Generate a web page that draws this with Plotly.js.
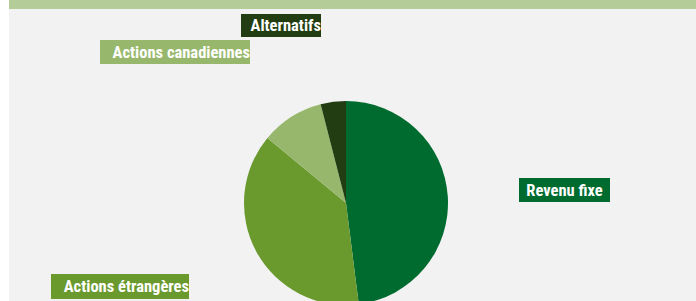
<!DOCTYPE html>
<html>
<head>
<meta charset="utf-8">
<script src="https://cdn.plot.ly/plotly-3.0.1.min.js"></script>
<style>
html,body{margin:0;padding:0;background:#ffffff;overflow:hidden;}
#chart{width:696px;height:330px;}
</style>
</head>
<body>
<div id="chart"></div>
<script>
// Data
var categories = ["Revenu fixe", "Actions étrangères", "Actions canadiennes", "Alternatifs"];
var values = [48, 38, 10, 4];
var colors = ["#006b2f", "#6a992e", "#97b86c", "#233d12"];

var W = 696, H = 330;
function px(x){ return x / W; }
function py(y){ return (H - y) / H; }

// pie geometry (pixels)
var cx = 346, cy = 203, r = 102;

var trace = {
  type: "pie",
  labels: categories,
  values: values,
  marker: {colors: colors, line: {width: 0}},
  sort: false,
  direction: "clockwise",
  rotation: 0,
  textinfo: "none",
  hoverinfo: "label+percent",
  showlegend: false,
  domain: {x: [px(cx - r), px(cx + r)], y: [py(cy + r), py(cy - r)]}
};

var labelBoxes = [
  {i: 3, x: 241, y: 14, w: 80, h: 23, align: "right"},
  {i: 2, x: 100, y: 40, w: 150, h: 24, align: "right"},
  {i: 0, x: 519, y: 178, w: 91, h: 24, align: "center"},
  {i: 1, x: 51, y: 274, w: 138, h: 25, align: "right"}
];

var annotations = labelBoxes.map(function(b){
  return {
    text: categories[b.i],
    xref: "paper", yref: "paper",
    x: px(b.x), y: py(b.y),
    xanchor: "left", yanchor: "top",
    width: b.w, height: b.h,
    align: b.align, valign: "middle",
    bgcolor: colors[b.i],
    borderpad: 0, borderwidth: 0,
    showarrow: false,
    font: {family: "'Liberation Sans Narrow', 'Roboto Condensed', 'Arial Narrow', sans-serif", size: 16.5, color: "#ffffff", weight: "bold"}
  };
});

var layout = {
  width: W, height: H,
  margin: {l: 0, r: 0, t: 0, b: 0},
  paper_bgcolor: "#ffffff",
  shapes: [
    {type: "rect", xref: "paper", yref: "paper", x0: px(9), x1: 1, y0: 0, y1: 1, fillcolor: "#f2f2f2", line: {width: 0}, layer: "below"},
    {type: "rect", xref: "paper", yref: "paper", x0: px(9), x1: 1, y0: py(9), y1: 1, fillcolor: "#b4cc97", line: {width: 0}, layer: "below"}
  ],
  annotations: annotations
};

Plotly.newPlot("chart", [trace], layout, {displayModeBar: false, staticPlot: true});
</script>
</body>
</html>
